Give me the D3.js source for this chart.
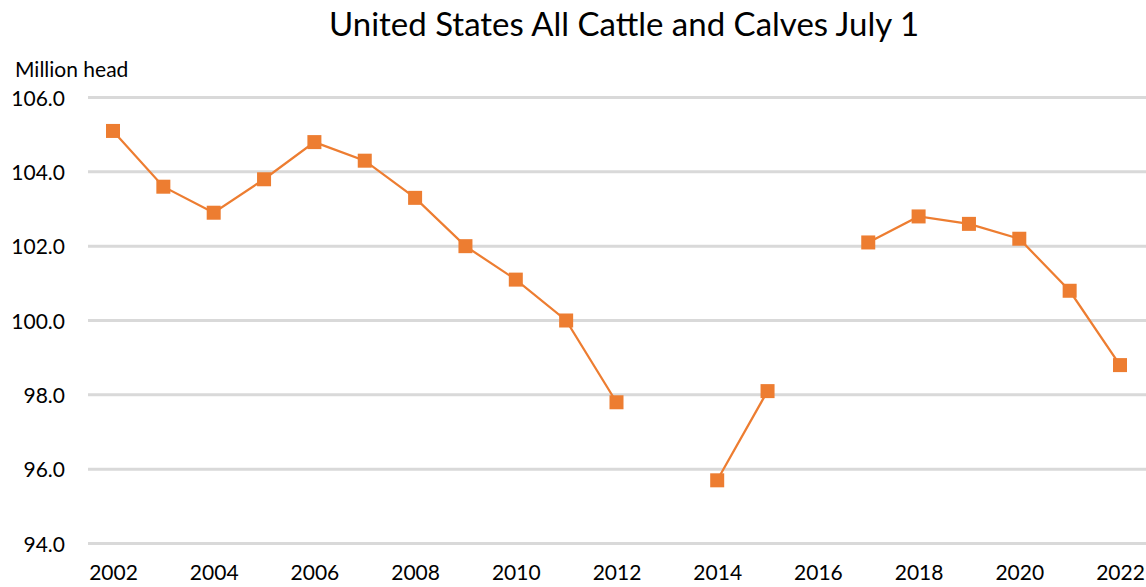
<!DOCTYPE html>
<html><head><meta charset="utf-8">
<script src="https://cdn.jsdelivr.net/npm/d3@7"></script>
<style>body{margin:0;background:#fff}svg{display:block}text{font-family:Lato,"Open Sans",sans-serif;fill:#000}</style>
</head><body><svg id="c" width="1146" height="587"></svg>
<script>
const years = [2002,2003,2004,2005,2006,2007,2008,2009,2010,2011,2012,2013,2014,2015,2016,2017,2018,2019,2020,2021,2022];
const values = [105.1,103.6,102.9,103.8,104.8,104.3,103.3,102.0,101.1,100.0,97.8,null,95.7,98.1,null,102.1,102.8,102.6,102.2,100.8,98.8];
const yTicks = [94,96,98,100,102,104,106];
const xTicks = [2002,2004,2006,2008,2010,2012,2014,2016,2018,2020,2022];
const title = "United States All Cattle and Calves July 1";
const yLabel = "Million head";

const svg = d3.select("#c");
const x = d3.scaleLinear().domain([2002,2022]).range([113,1120]);
const y = d3.scaleLinear().domain([94,106]).range([543.5,97.5]);

svg.append("g").selectAll("line").data(yTicks).join("line")
  .attr("x1",88).attr("x2",1146).attr("y1",d=>y(d)).attr("y2",d=>y(d))
  .attr("stroke","#d9d9d9").attr("stroke-width",3);

const yAxis = svg.append("g").attr("transform","translate(65,0)")
  .call(d3.axisLeft(y).tickValues(yTicks).tickFormat(d3.format(".1f")).tickSize(0).tickPadding(0));
yAxis.select(".domain").remove();
yAxis.selectAll("text").style("font-size","21px").attr("dy","0.36em");

const xAxis = svg.append("g").attr("transform","translate(0,565)")
  .call(d3.axisBottom(x).tickValues(xTicks).tickFormat(d3.format("d")).tickSize(0).tickPadding(0));
xAxis.select(".domain").remove();
xAxis.selectAll("text").style("font-size","21px");

const data = years.map((yr,i)=>({yr,v:values[i]}));
const line = d3.line().defined(d=>d.v!==null).x(d=>x(d.yr)).y(d=>y(d.v));
svg.append("path").datum(data).attr("d",line).attr("fill","none")
  .attr("stroke","#ED7D31").attr("stroke-width",2.25);
svg.append("g").selectAll("rect").data(data.filter(d=>d.v!==null)).join("rect")
  .attr("x",d=>x(d.yr)-7).attr("y",d=>y(d.v)-7).attr("width",14).attr("height",14)
  .attr("fill","#ED7D31");

svg.append("text").attr("x",624).attr("y",36).attr("text-anchor","middle")
  .style("font-size","33px").text(title);
svg.append("text").attr("x",15).attr("y",77).style("font-size","21px").text(yLabel);
</script></body></html>
